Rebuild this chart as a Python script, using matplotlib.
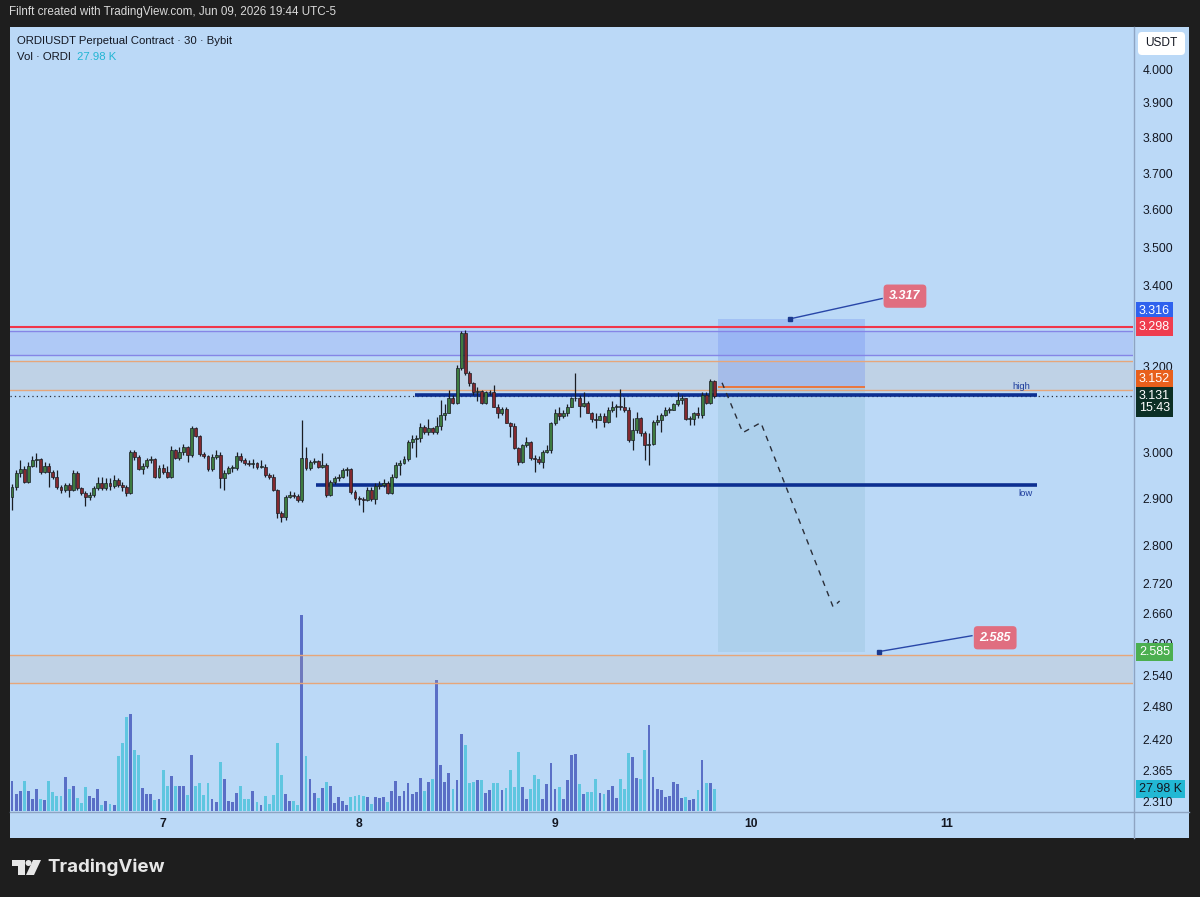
import matplotlib.pyplot as plt
import matplotlib.transforms as mtransforms
from matplotlib.patches import Rectangle, FancyBboxPatch, Circle, Polygon
from matplotlib.lines import Line2D
from matplotlib.ticker import NullLocator, NullFormatter
import numpy as np

plt.rcParams['font.family'] = ['Liberation Sans', 'DejaVu Sans']

W, H = 1200, 897
BG = '#bbd9f7'
FRAME = '#1e1e1e'

# ---- data (30 min candles, ORDIUSDT) ----
first_open = 2.903
closes = [
    2.925, 2.956, 2.965, 2.936, 2.971, 2.985, 2.987, 2.958, 2.971, 2.958,
    2.947, 2.925, 2.918, 2.929, 2.918, 2.956, 2.923, 2.911, 2.903, 2.907,
    2.923, 2.934, 2.923, 2.934, 2.927, 2.940, 2.929, 2.925, 2.911, 3.002,
    2.991, 2.965, 2.971, 2.985, 2.987, 2.947, 2.967, 2.958, 2.947, 3.007,
    2.989, 3.002, 3.013, 2.996, 3.057, 3.039, 2.998, 2.993, 2.965, 2.991,
    2.996, 2.945, 2.956, 2.967, 2.967, 2.993, 2.985, 2.978, 2.976, 2.978,
    2.969, 2.969, 2.951, 2.947, 2.918, 2.869, 2.860, 2.903, 2.907, 2.905,
    2.896, 2.989, 2.967, 2.980, 2.982, 2.969, 2.974, 2.907, 2.936, 2.945,
    2.947, 2.962, 2.965, 2.914, 2.900, 2.898, 2.896, 2.918, 2.898, 2.927,
    2.929, 2.934, 2.911, 2.947, 2.974, 2.978, 2.987, 3.025, 3.032, 3.034,
    3.060, 3.048, 3.057, 3.048, 3.062, 3.087, 3.092, 3.127, 3.115, 3.198,
    3.283, 3.186, 3.162, 3.139, 3.143, 3.115, 3.139, 3.141, 3.106, 3.090,
    3.101, 3.069, 3.062, 3.011, 2.980, 3.018, 3.025, 2.989, 2.987, 2.980,
    3.002, 3.007, 3.067, 3.090, 3.085, 3.092, 3.104, 3.125, 3.127, 3.108,
    3.115, 3.092, 3.078, 3.076, 3.085, 3.071, 3.099, 3.104, 3.108, 3.104,
    3.099, 3.029, 3.052, 3.080, 3.046, 3.018, 3.020, 3.071, 3.074, 3.087,
    3.099, 3.099, 3.111, 3.122, 3.125, 3.078, 3.078, 3.090, 3.087, 3.134,
    3.115, 3.167, 3.131,
]
highs = [
    2.931, 2.962, 2.985, 2.971, 2.980, 2.993, 3.000, 2.989, 2.980, 2.978,
    2.962, 2.962, 2.929, 2.934, 2.934, 2.962, 2.960, 2.925, 2.916, 2.914,
    2.927, 2.947, 2.947, 2.945, 2.945, 2.951, 2.945, 2.936, 2.929, 3.007,
    3.007, 2.996, 2.978, 2.989, 2.993, 2.989, 2.974, 2.976, 2.971, 3.016,
    3.009, 3.013, 3.020, 3.016, 3.062, 3.060, 3.041, 3.002, 2.996, 2.998,
    3.007, 3.002, 2.962, 2.971, 2.974, 3.002, 3.000, 2.989, 2.985, 2.987,
    2.980, 2.985, 2.976, 2.956, 2.953, 2.920, 2.872, 2.907, 2.916, 2.914,
    2.909, 3.076, 3.013, 2.985, 2.989, 2.985, 3.000, 2.978, 2.940, 2.949,
    2.953, 2.967, 2.969, 2.967, 2.918, 2.905, 2.903, 2.925, 2.925, 2.934,
    2.938, 2.942, 2.938, 2.953, 2.980, 2.985, 2.993, 3.029, 3.041, 3.041,
    3.067, 3.064, 3.078, 3.060, 3.083, 3.122, 3.111, 3.146, 3.132, 3.205,
    3.288, 3.290, 3.191, 3.164, 3.153, 3.146, 3.143, 3.146, 3.157, 3.111,
    3.106, 3.104, 3.071, 3.067, 3.013, 3.020, 3.036, 3.027, 2.996, 2.993,
    3.007, 3.018, 3.071, 3.101, 3.106, 3.099, 3.113, 3.129, 3.186, 3.132,
    3.139, 3.118, 3.094, 3.092, 3.090, 3.090, 3.104, 3.118, 3.113, 3.148,
    3.129, 3.104, 3.080, 3.094, 3.083, 3.050, 3.046, 3.076, 3.087, 3.092,
    3.104, 3.106, 3.115, 3.139, 3.132, 3.127, 3.085, 3.094, 3.106, 3.139,
    3.139, 3.171, 3.169,
]
lows = [
    2.874, 2.918, 2.947, 2.934, 2.934, 2.969, 2.969, 2.953, 2.956, 2.925,
    2.942, 2.920, 2.911, 2.914, 2.903, 2.916, 2.918, 2.907, 2.883, 2.896,
    2.903, 2.918, 2.918, 2.918, 2.918, 2.923, 2.925, 2.916, 2.905, 2.909,
    2.985, 2.962, 2.953, 2.967, 2.978, 2.945, 2.945, 2.953, 2.945, 2.945,
    2.987, 2.985, 2.996, 2.980, 2.991, 3.036, 2.993, 2.989, 2.960, 2.960,
    2.987, 2.923, 2.918, 2.953, 2.958, 2.962, 2.980, 2.974, 2.971, 2.967,
    2.965, 2.967, 2.947, 2.942, 2.916, 2.858, 2.849, 2.853, 2.900, 2.900,
    2.892, 2.892, 2.962, 2.962, 2.976, 2.967, 2.967, 2.903, 2.905, 2.931,
    2.938, 2.945, 2.949, 2.909, 2.896, 2.885, 2.871, 2.894, 2.894, 2.887,
    2.920, 2.925, 2.909, 2.909, 2.945, 2.951, 2.976, 2.982, 3.011, 2.991,
    3.025, 3.043, 3.041, 3.043, 3.043, 3.052, 3.076, 3.090, 3.111, 3.111,
    3.193, 3.181, 3.155, 3.134, 3.118, 3.113, 3.113, 3.132, 3.104, 3.080,
    3.087, 3.067, 3.036, 3.009, 2.974, 2.978, 3.013, 2.985, 2.958, 2.976,
    2.967, 3.000, 3.000, 3.064, 3.074, 3.080, 3.085, 3.104, 3.120, 3.083,
    3.104, 3.090, 3.071, 3.057, 3.074, 3.060, 3.069, 3.094, 3.083, 3.099,
    3.094, 3.025, 3.007, 3.046, 3.039, 2.985, 2.974, 3.018, 3.064, 3.048,
    3.085, 3.090, 3.097, 3.108, 3.113, 3.076, 3.064, 3.064, 3.080, 3.080,
    3.111, 3.111, 3.127,
]
volumes = [  # thousands of ORDI
    38.1, 21.6, 25.4, 38.1, 25.4, 15.2, 27.9, 15.2, 14.0, 38.1,
    24.1, 19.1, 19.1, 43.2, 27.9, 31.8, 16.5, 10.2, 30.5, 19.1,
    16.5, 27.9, 7.6, 12.7, 8.9, 7.6, 69.9, 86.4, 119.4, 123.2,
    77.5, 71.1, 29.2, 21.6, 21.6, 14.0, 15.2, 52.1, 31.8, 44.5,
    31.8, 31.8, 31.8, 20.3, 71.1, 31.8, 35.6, 20.3, 35.6, 15.2,
    11.4, 62.2, 40.6, 12.7, 11.4, 22.9, 31.8, 15.2, 15.2, 25.4,
    11.4, 7.6, 19.1, 8.9, 20.3, 86.4, 45.7, 21.6, 12.7, 12.7,
    7.6, 248.9, 69.9, 40.6, 22.9, 16.5, 29.2, 36.8, 31.8, 10.2,
    17.8, 12.7, 7.6, 17.8, 19.1, 20.3, 19.1, 17.8, 8.9, 17.8,
    16.5, 17.8, 11.4, 25.4, 38.1, 19.1, 25.4, 35.6, 21.6, 24.1,
    41.9, 25.4, 36.8, 40.6, 166.4, 58.4, 36.8, 48.3, 27.9, 39.4,
    97.8, 83.8, 35.6, 36.8, 39.4, 39.4, 22.9, 26.7, 35.6, 35.6,
    26.7, 29.2, 52.1, 30.5, 74.9, 30.5, 15.2, 27.9, 45.7, 40.6,
    15.2, 34.3, 61.0, 27.9, 30.5, 15.2, 39.4, 71.1, 72.4, 34.3,
    21.6, 24.1, 24.1, 40.6, 22.9, 21.6, 26.7, 31.8, 16.5, 40.6,
    27.9, 73.7, 68.6, 41.9, 40.6, 77.5, 109.2, 43.2, 27.9, 26.7,
    17.8, 19.1, 36.8, 34.3, 16.5, 17.8, 14.0, 15.2, 26.7, 64.8,
    35.6, 35.6, 27.98,
]

day_ticks = [37, 85, 133, 181, 229]
day_labels = ['7', '8', '9', '10', '11']
price_ticks = [4.0, 3.9, 3.8, 3.7, 3.6, 3.5, 3.4, 3.2, 3.0, 2.9, 2.8,
               2.72, 2.66, 2.6, 2.54, 2.48, 2.42, 2.365, 2.31]
price_labels = ['4.000', '3.900', '3.800', '3.700', '3.600', '3.500', '3.400',
                '3.200', '3.000', '2.900', '2.800', '2.720', '2.660', '2.600',
                '2.540', '2.480', '2.420', '2.365', '2.310']

red_level = 3.298
zone_top = (3.229, 3.288)
zone_mid = (3.146, 3.215)
zone_low = (2.525, 2.579)
high_level, high_span = 3.133, (98.7, 251.0)
low_level, low_span = 2.929, (74.5, 251.0)
entry, stop, target = 3.152, 3.316, 2.585
pos_span = (172.9, 208.9)
last_price = 3.131
path_x = [173.9, 179.0, 183.4, 201.1, 202.7]
path_y = [3.162, 3.046, 3.069, 2.673, 2.685]
stop_tag = dict(text='3.317', anchor=(190.5, 3.317), joint=(213.1, 3.368), box=(218.7, 3.374))
target_tag = dict(text='2.585', anchor=(212.3, 2.585), joint=(235.1, 2.616), box=(240.8, 2.612))

# ---- derived ----
closes = np.array(closes)
opens = np.concatenate([[first_open], closes[:-1]])
highs = np.maximum.reduce([np.array(highs), opens, closes])
lows = np.minimum.reduce([np.array(lows), opens, closes])
idx = np.arange(len(closes))
up = closes >= opens


def fx(px):
    return px / W


def fy(py):
    return 1 - py / H


fig = plt.figure(figsize=(12, 8.97), dpi=100, facecolor=FRAME)
fig.add_artist(Rectangle((fx(10), fy(838)), fx(1189) - fx(10), fy(27) - fy(838),
                         transform=fig.transFigure, facecolor=BG, edgecolor='none', zorder=0))

rect = [fx(10), fy(811), (1133 - 10) / W, (811 - 27) / H]
xlim = (-0.49, 274.55)

# volume pane (behind price pane)
vax = fig.add_axes(rect)
vax.set_facecolor('none')
vax.set_xlim(*xlim)
vax.set_ylim(0, 997)
vax.axis('off')
vax.bar(idx, volumes, width=0.7, color=np.where(up, '#5a6fc6', '#5fc6e0'), linewidth=0)

ax = fig.add_axes(rect)
ax.set_facecolor('none')
ax.set_yscale('log')
ax.set_xlim(*xlim)
ax.set_ylim(2.294, 4.128)
for s in ax.spines.values():
    s.set_visible(False)

# zones
ax.axhspan(*zone_top, facecolor='#5a5af0', alpha=0.12, lw=0, zorder=1)
for v in zone_top:
    ax.axhline(v, color='#8585e6', lw=1, zorder=1.5)
for z in (zone_mid, zone_low):
    ax.axhspan(*z, facecolor='#d8b090', alpha=0.16, lw=0, zorder=1)
    for v in z:
        ax.axhline(v, color='#e6a67a', lw=1, zorder=1.5)
ax.axhline(red_level, color='#f0364a', lw=1.5, zorder=1.6)

# short position tool
ax.fill_between(pos_span, entry, stop, color='#6a8cf0', alpha=0.3, lw=0, zorder=1.2)
ax.fill_between(pos_span, target, entry, color='#7fb0c8', alpha=0.22, lw=0, zorder=1.2)
ax.hlines(entry, *pos_span, color='#f07030', lw=1.3, zorder=1.7)

# last price dotted line
ax.axhline(last_price, color='#2a2e39', lw=0.9, ls=(0, (1, 2.5)), zorder=1.8)

# high / low levels
ax.hlines(high_level, *high_span, color='#0d2f91', lw=2.6, zorder=2)
ax.hlines(low_level, *low_span, color='#0d2f91', lw=2.6, zorder=2)
ax.text(247.1, 3.153, 'high', color='#1d3c9c', fontsize=6.8, ha='center', va='center')
ax.text(248.1, 2.911, 'low', color='#1d3c9c', fontsize=6.8, ha='center', va='center')

# candles
ax.vlines(idx, lows, highs, color='#1a1d24', lw=0.9, zorder=2.9)
ax.bar(idx, np.maximum(np.abs(closes - opens), 0.0012), bottom=np.minimum(opens, closes),
       width=0.72, color=np.where(up, '#3d7b40', '#83292f'), edgecolor='#1a1d24',
       linewidth=0.5, zorder=3)

# projected path
ax.plot(path_x, path_y, color='#2a2e39', lw=1, ls=(0, (4, 4)), zorder=4)

# price tags
for tag in (stop_tag, target_tag):
    ax.plot([tag['anchor'][0], tag['joint'][0]], [tag['anchor'][1], tag['joint'][1]],
            color='#2846a8', lw=1, zorder=5)
    ax.plot(*tag['anchor'], marker='s', ms=3.5, color='#1c3a8f', zorder=5)
    ax.text(*tag['box'], tag['text'], color='white', fontsize=9, fontweight='bold',
            style='italic', ha='center', va='center', zorder=6,
            bbox=dict(boxstyle='round,pad=0.45,rounding_size=0.3', fc='#e06e80', ec='none'))

# axes ticks
ax.yaxis.tick_right()
ax.set_yticks(price_ticks)
ax.set_yticklabels(price_labels)
ax.yaxis.set_minor_locator(NullLocator())
ax.yaxis.set_minor_formatter(NullFormatter())
ax.tick_params(axis='y', length=0, pad=7, labelsize=8.7, labelcolor='#131722')
ax.set_xticks(day_ticks)
ax.set_xticklabels(day_labels, fontweight='bold')
ax.tick_params(axis='x', length=0, pad=5, labelsize=8.7, labelcolor='#131722')

# price-scale labels
tr = mtransforms.blended_transform_factory(ax.transAxes, ax.transData)
lx = (1139 - 10) / 1123


def scale_label(axes, axes_tr, y, text, fc, tc='white', dy=0):
    t = mtransforms.offset_copy(axes_tr, fig=fig, x=0, y=dy, units='dots')
    axes.text(lx, y, text, transform=t, ha='left', va='center', fontsize=9, color=tc,
              zorder=7, clip_on=False, linespacing=1.0,
              bbox=dict(boxstyle='square,pad=0.25', fc=fc, ec='none'))


scale_label(ax, tr, stop, '3.316', '#2f62ee', dy=8)
scale_label(ax, tr, red_level, '3.298', '#ef3d4f')
scale_label(ax, tr, entry, '3.152', '#e8601c', dy=8)
scale_label(ax, tr, last_price, '3.131\n15:43', '#0c2f25', dy=-6)
scale_label(ax, tr, target, '2.585', '#4caf50')
vtr = mtransforms.blended_transform_factory(vax.transAxes, vax.transData)
scale_label(vax, vtr, volumes[-1], '27.98 K', '#22b8d4', tc='#131722')

# separators
px = mtransforms.IdentityTransform()
fig.add_artist(Line2D([1133.5, 1133.5], [H - 27, H - 838], transform=px, color='#8ea4c2', lw=1))
fig.add_artist(Line2D([10, 1189], [H - 811.5, H - 811.5], transform=px, color='#8ea4c2', lw=1))

# USDT button
fig.add_artist(FancyBboxPatch((1138, H - 55), 47, 23, boxstyle='round,pad=0,rounding_size=4',
                              transform=px, facecolor='white', edgecolor='none'))
fig.text(fx(1161.5), fy(43.5), 'USDT', ha='center', va='center', fontsize=8.6, color='#131722')

# header texts
fig.text(fx(9), fy(12), 'Filnft created with TradingView.com, Jun 09, 2026 19:44 UTC-5',
         color='#d9d9d9', fontsize=8.4, va='center')
fig.text(fx(17), fy(41), 'ORDIUSDT Perpetual Contract · 30 · Bybit',
         color='#131722', fontsize=8.2, va='center')
fig.text(fx(17), fy(57), 'Vol · ORDI', color='#131722', fontsize=8.2, va='center')
fig.text(fx(77), fy(57), '27.98 K', color='#22b5d3', fontsize=8.2, va='center')

# TradingView logo
logo = '#e6e6e6'
fig.add_artist(Polygon([(12, H - 860), (25, H - 860), (25, H - 875), (18, H - 875),
                        (18, H - 866), (12, H - 866)], closed=True, transform=px,
                       facecolor=logo, edgecolor='none'))
fig.add_artist(Circle((28.5, H - 863), 3, transform=px, facecolor=logo, edgecolor='none'))
fig.add_artist(Polygon([(33, H - 860), (41, H - 860), (34, H - 875), (26, H - 875)],
                       closed=True, transform=px, facecolor=logo, edgecolor='none'))
fig.text(fx(47), fy(867), 'TradingView', color=logo, fontsize=13.5, fontweight='bold',
         va='center', family=['Inter', 'DejaVu Sans'])

fig.savefig('out.png', dpi=100, facecolor=FRAME)
